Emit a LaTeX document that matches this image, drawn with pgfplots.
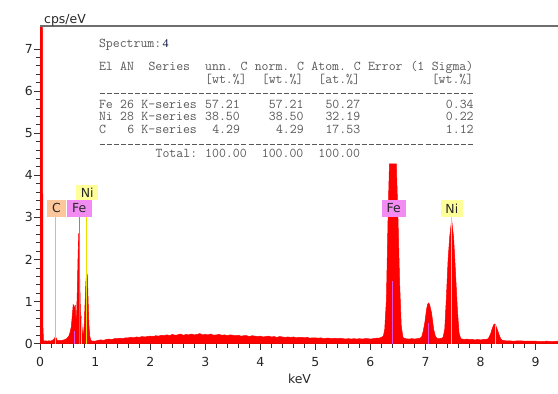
\documentclass[border=0pt]{standalone}
\usepackage{fontspec}
\setmainfont{DejaVu Sans}
\newfontfamily\serifnum{Liberation Serif}
\usepackage{pgfplots}
\pgfplotsset{compat=1.18}
\definecolor{tblgray}{RGB}{88,88,88}
\definecolor{specred}{RGB}{255,0,0}
\definecolor{cbox}{RGB}{252,199,154}
\definecolor{cline}{RGB}{242,176,126}
\definecolor{febox}{RGB}{242,140,242}
\definecolor{feline}{RGB}{225,76,225}
\definecolor{nibox}{RGB}{255,255,153}
\definecolor{niline}{RGB}{235,225,0}
\definecolor{axgray}{RGB}{110,110,110}
\newcommand\tblfont{\ttfamily\fontsize{13.5}{15}\selectfont}
\newcommand\tc[3]{\node[anchor=base west, inner sep=0pt, text=tblgray, font=\tblfont] at ({98.8bp+7.08bp*#1},{394bp-#2bp}) {#3};}
\pgfplotstableread{
x y
0.000 9.0
0.040 9.0
0.050 0.40
0.060 0.08
0.080 0.06
0.100 0.07
0.130 0.06
0.160 0.07
0.190 0.06
0.220 0.08
0.245 0.10
0.265 0.14
0.280 0.16
0.295 0.12
0.310 0.08
0.340 0.07
0.370 0.08
0.400 0.08
0.430 0.09
0.460 0.10
0.490 0.13
0.520 0.18
0.545 0.28
0.565 0.40
0.585 0.70
0.600 0.93
0.612 0.90
0.625 0.80
0.637 0.92
0.650 0.55
0.662 0.70
0.675 1.30
0.688 2.10
0.700 2.62
0.710 2.30
0.720 1.40
0.730 0.80
0.740 0.55
0.748 0.62
0.758 0.42
0.770 0.25
0.785 0.22
0.800 0.45
0.815 0.95
0.830 1.45
0.845 1.70
0.858 1.60
0.870 1.05
0.885 0.45
0.900 0.18
0.920 0.08
0.950 0.06
1.000 0.06
1.05 0.08
1.10 0.09
1.15 0.08
1.20 0.10
1.25 0.11
1.30 0.10
1.35 0.12
1.40 0.12
1.45 0.13
1.50 0.12
1.55 0.14
1.60 0.14
1.65 0.15
1.70 0.14
1.75 0.16
1.80 0.15
1.85 0.17
1.90 0.16
1.95 0.17
2.00 0.18
2.05 0.17
2.10 0.19
2.15 0.18
2.20 0.20
2.25 0.19
2.30 0.21
2.35 0.19
2.40 0.22
2.45 0.20
2.50 0.21
2.55 0.23
2.60 0.20
2.65 0.22
2.70 0.21
2.75 0.23
2.80 0.21
2.85 0.22
2.90 0.24
2.95 0.21
3.00 0.22
3.05 0.21
3.10 0.23
3.15 0.20
3.20 0.21
3.25 0.22
3.30 0.20
3.35 0.21
3.40 0.19
3.45 0.21
3.50 0.20
3.55 0.19
3.60 0.20
3.65 0.18
3.70 0.19
3.75 0.19
3.80 0.17
3.85 0.19
3.90 0.18
3.95 0.17
4.00 0.18
4.05 0.16
4.10 0.17
4.15 0.18
4.20 0.16
4.25 0.17
4.30 0.15
4.35 0.17
4.40 0.16
4.45 0.15
4.50 0.16
4.55 0.15
4.60 0.16
4.65 0.14
4.70 0.15
4.75 0.15
4.80 0.14
4.85 0.15
4.90 0.13
4.95 0.14
5.00 0.14
5.05 0.13
5.10 0.14
5.15 0.12
5.20 0.13
5.25 0.13
5.30 0.12
5.35 0.13
5.40 0.12
5.45 0.13
5.50 0.12
5.55 0.11
5.60 0.12
5.65 0.11
5.70 0.12
5.75 0.11
5.80 0.12
5.85 0.11
5.90 0.12
5.95 0.12
6.00 0.11
6.05 0.12
6.10 0.13
6.15 0.13
6.20 0.15
6.235 0.18
6.26 0.35
6.29 1.05
6.32 3.00
6.345 4.27
6.47 4.27
6.50 3.00
6.53 1.45
6.56 0.42
6.59 0.15
6.63 0.12
6.70 0.11
6.75 0.12
6.80 0.11
6.85 0.12
6.90 0.13
6.93 0.16
6.96 0.30
6.99 0.52
7.02 0.82
7.04 0.94
7.06 0.97
7.08 0.90
7.11 0.73
7.15 0.33
7.18 0.18
7.21 0.12
7.25 0.12
7.29 0.13
7.32 0.15
7.35 0.35
7.38 1.10
7.41 1.98
7.44 2.54
7.475 2.94
7.51 2.54
7.54 1.82
7.58 0.80
7.61 0.25
7.64 0.12
7.70 0.10
7.75 0.11
7.80 0.10
7.85 0.10
7.90 0.09
7.95 0.10
8.00 0.09
8.05 0.10
8.10 0.10
8.14 0.12
8.18 0.22
8.21 0.35
8.24 0.45
8.26 0.47
8.28 0.42
8.31 0.32
8.34 0.20
8.37 0.11
8.40 0.08
8.45 0.07
8.50 0.07
8.60 0.06
8.70 0.07
8.80 0.06
8.90 0.06
9.00 0.06
9.10 0.05
9.20 0.06
9.30 0.05
9.40 0.06
9.50 0.05
}\spectrum
\begin{document}
\begin{tikzpicture}
\begin{axis}[
  name=ax,
  at={(40.2bp,50.3bp)}, anchor=south west,
  scale only axis, width=522.9bp, height=317.7bp,
  xmin=0, xmax=9.5, ymin=0, ymax=7.546,
  axis x line*=bottom, axis y line*=left,
  axis line style={draw=black!80, line width=1bp},
  xtick={0,1,...,9}, ytick={0,1,...,7},
  minor x tick num=4, minor y tick num=4,
  tick align=outside,
  major tick length=6bp, minor tick length=4bp,
  tick style={draw=black!80, line width=0.8bp},
  tick label style={font=\fontsize{12.5}{14}\selectfont, text=black!85},
  xticklabel style={yshift=-4bp},
  yticklabel style={xshift=2bp},
  /pgf/number format/assume math mode=true,
]
\addplot[draw=specred, fill=specred, line width=0.5bp] table[x=x,y=y] {\spectrum} \closedcycle;
% element marker lines
\draw[cline, line width=1bp] (axis cs:0.277,0) -- (axis cs:0.277,3.017);
\draw[feline, line width=1bp] (axis cs:0.705,0) -- (axis cs:0.705,3.017);
\draw[niline, line width=1bp] (axis cs:0.849,0) -- (axis cs:0.849,3.413);
\draw[feline, line width=1bp] (axis cs:0.628,0) -- (axis cs:0.628,0.3);
\draw[niline, line width=1bp] (axis cs:0.743,0) -- (axis cs:0.743,0.6);
\draw[feline, line width=1bp] (axis cs:6.405,0) -- (axis cs:6.405,1.5);
\draw[feline, line width=1bp] (axis cs:7.058,0) -- (axis cs:7.058,0.5);
\draw[niline, line width=1bp] (axis cs:7.478,0) -- (axis cs:7.478,3.017);
\draw[niline, line width=1bp] (axis cs:8.265,0) -- (axis cs:8.265,0.45);
% label boxes
\fill[cbox] (axis cs:0.118,3.017) rectangle (axis cs:0.469,3.413);
\node[text=black!85, font=\fontsize{12.5}{14}\selectfont] at (axis cs:0.2935,3.215) {C};
\fill[febox] (axis cs:0.481,3.017) rectangle (axis cs:0.936,3.413);
\node[text=black!85, font=\fontsize{12.5}{14}\selectfont] at (axis cs:0.7085,3.215) {Fe};
\fill[nibox] (axis cs:0.650,3.413) rectangle (axis cs:1.056,3.77);
\node[text=black!85, font=\fontsize{12.5}{14}\selectfont] at (axis cs:0.853,3.59) {Ni};
\fill[febox] (axis cs:6.205,3.017) rectangle (axis cs:6.641,3.413);
\node[text=black!85, font=\fontsize{12.5}{14}\selectfont] at (axis cs:6.423,3.215) {Fe};
\fill[nibox] (axis cs:7.277,3.017) rectangle (axis cs:7.682,3.413);
\node[text=black!85, font=\fontsize{12.5}{14}\selectfont] at (axis cs:7.4795,3.215) {Ni};
\end{axis}
\draw[axgray, line width=1.3bp] (ax.north west) -- (ax.north east);
% axis descriptions
\node[anchor=base west, inner sep=0pt, text=black!85, font=\fontsize{12.5}{14}\selectfont] at (44bp,370bp) {cps/eV};
\node[anchor=base, inner sep=0pt, text=black!85, font=\fontsize{12.5}{14}\selectfont] at (299.5bp,10.7bp) {keV};
% result table
\tc{0}{47.5}{Spectrum:}
\node[anchor=base west, inner sep=0pt, text={rgb,255:red,20;green,30;blue,70}, font=\serifnum\fontsize{12}{14}\selectfont] at ({98.8bp+7.08bp*9},{394bp-47.5bp}) {4};
\tc{0}{70.3}{El}\tc{3}{70.3}{AN}\tc{7}{70.3}{Series}
\tc{15}{70.3}{unn.}\tc{20}{70.3}{C}
\tc{22}{70.3}{norm.}\tc{28}{70.3}{C}
\tc{30}{70.3}{Atom.}\tc{36}{70.3}{C}
\tc{38}{70.3}{Error}\tc{44}{70.3}{(1}\tc{47}{70.3}{Sigma)}
\tc{15}{83.2}{[wt.\%]}\tc{23}{83.2}{[wt.\%]}\tc{31}{83.2}{[at.\%]}\tc{47}{83.2}{[wt.\%]}
\draw[tblgray, line width=0.8bp, dash pattern=on 5bp off 2.08bp] (99.84bp,{394bp-93.5bp}) -- (474bp,{394bp-93.5bp});
\tc{0}{108.5}{Fe}\tc{3}{108.5}{26}\tc{6}{108.5}{K-series}\tc{15}{108.5}{57.21}\tc{24}{108.5}{57.21}\tc{32}{108.5}{50.27}\tc{49}{108.5}{0.34}
\tc{0}{121}{Ni}\tc{3}{121}{28}\tc{6}{121}{K-series}\tc{15}{121}{38.50}\tc{24}{121}{38.50}\tc{32}{121}{32.19}\tc{49}{121}{0.22}
\tc{0}{133.3}{C}\tc{4}{133.3}{6}\tc{6}{133.3}{K-series}\tc{16}{133.3}{4.29}\tc{25}{133.3}{4.29}\tc{32}{133.3}{17.53}\tc{49}{133.3}{1.12}
\draw[tblgray, line width=0.8bp, dash pattern=on 5bp off 2.08bp] (99.84bp,{394bp-144bp}) -- (474bp,{394bp-144bp});
\tc{8}{157.5}{Total:}\tc{15}{157.5}{100.00}\tc{23}{157.5}{100.00}\tc{31}{157.5}{100.00}
\pgfresetboundingbox
\path[use as bounding box] (0bp,0bp) rectangle (558bp,394bp);
\end{tikzpicture}
\end{document}
